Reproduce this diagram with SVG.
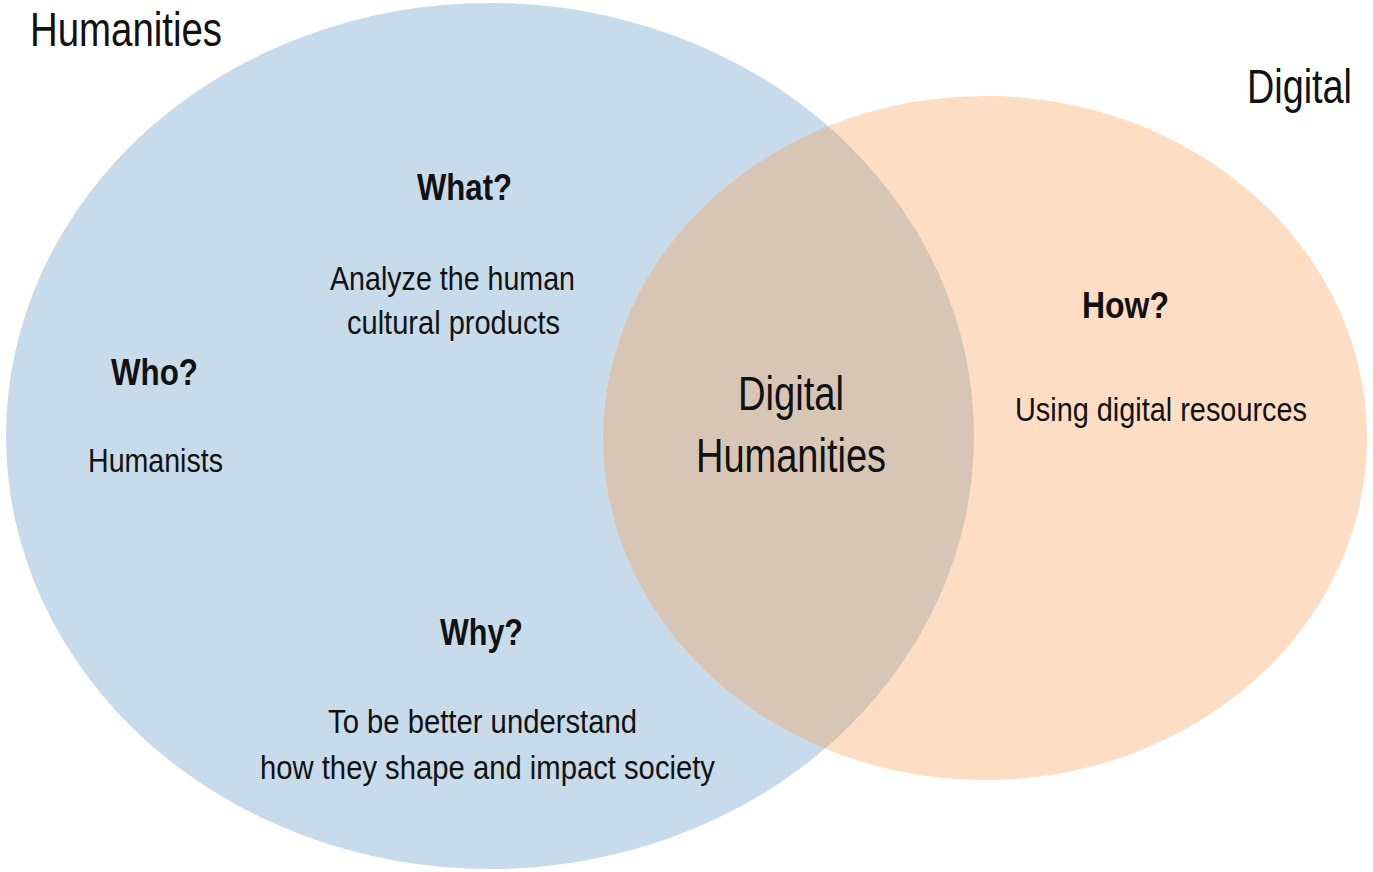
<svg xmlns="http://www.w3.org/2000/svg" width="1373" height="872" viewBox="0 0 1373 872">
<style>
text{font-family:"Liberation Sans",Arial,Helvetica,sans-serif;fill:#111;}
.big{font-size:48px;}
.hd{font-size:37px;font-weight:bold;}
.bd{font-size:33px;}
</style>
<defs>
<clipPath id="blueClip"><ellipse cx="490" cy="436" rx="484" ry="433"/></clipPath>
</defs>
<rect width="1373" height="872" fill="#ffffff"/>
<g id="humanities">
<ellipse cx="490" cy="436" rx="484" ry="433" fill="#c7dbea"/>
<text class="big" x="30" y="46" textLength="192" lengthAdjust="spacingAndGlyphs">Humanities</text>
<text class="hd" x="417" y="200" textLength="95" lengthAdjust="spacingAndGlyphs">What?</text>
<text class="bd" x="330" y="290" textLength="245" lengthAdjust="spacingAndGlyphs">Analyze the human</text>
<text class="bd" x="347" y="334" textLength="213" lengthAdjust="spacingAndGlyphs">cultural products</text>
<text class="hd" x="111" y="385" textLength="87" lengthAdjust="spacingAndGlyphs">Who?</text>
<text class="bd" x="88" y="472" textLength="135" lengthAdjust="spacingAndGlyphs">Humanists</text>
<text class="hd" x="440" y="645" textLength="83" lengthAdjust="spacingAndGlyphs">Why?</text>
<text class="bd" x="328" y="733" textLength="309" lengthAdjust="spacingAndGlyphs">To be better understand</text>
<text class="bd" x="260" y="779" textLength="455" lengthAdjust="spacingAndGlyphs">how they shape and impact society</text>
</g>
<g id="digital">
<ellipse cx="985" cy="438" rx="382" ry="342" fill="#fddec5"/>
<text class="big" x="1247" y="103" textLength="105" lengthAdjust="spacingAndGlyphs">Digital</text>
<text class="hd" x="1082" y="318" textLength="87" lengthAdjust="spacingAndGlyphs">How?</text>
<text class="bd" x="1015" y="421" textLength="292" lengthAdjust="spacingAndGlyphs">Using digital resources</text>
</g>
<g id="digital-humanities">
<ellipse cx="985" cy="438" rx="382" ry="342" fill="#d7c6b6" clip-path="url(#blueClip)"/>
<text class="big" x="738" y="410" textLength="106" lengthAdjust="spacingAndGlyphs">Digital</text>
<text class="big" x="696" y="472" textLength="190" lengthAdjust="spacingAndGlyphs">Humanities</text>
</g>
</svg>
